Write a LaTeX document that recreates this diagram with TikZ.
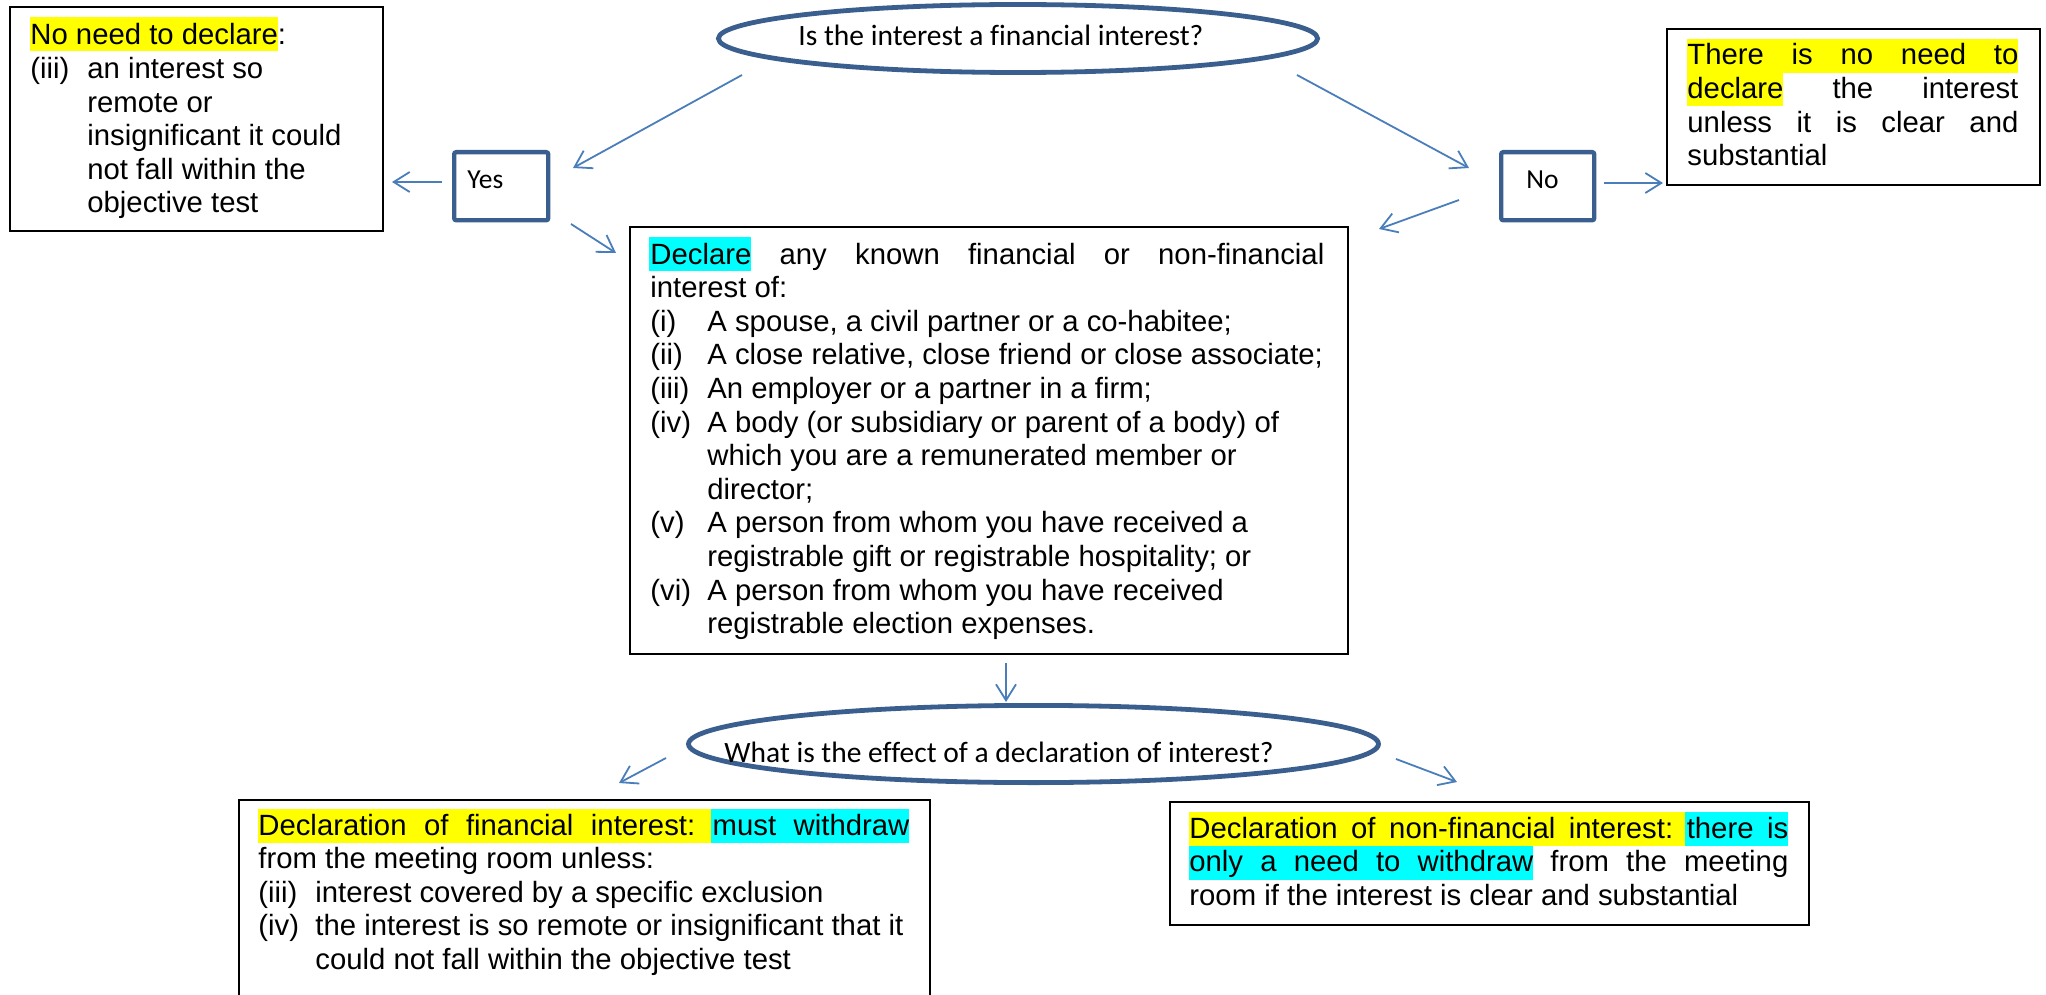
\documentclass[tikz,border=0pt]{standalone}
\usepackage{fontspec}
\setmainfont{Liberation Sans}[Ligatures=NoCommon]
\newfontfamily\calfont{Carlito}[Ligatures=NoCommon]
\usetikzlibrary{arrows.meta,shapes.geometric}
\definecolor{shapeblue}{HTML}{3A5F8E}
\definecolor{arrowblue}{HTML}{4A7EBB}
\definecolor{hly}{HTML}{FFFF00}
\definecolor{hlc}{HTML}{00FFFF}
\newdimen\itemind \itemind=28.5pt
\hbadness=10000
\newcommand\Ln[1]{\hbox{#1}}
\newcommand\Jn[1]{\hbox to\hsize{#1}}
\newcommand\It[2]{\hbox{\hbox to\itemind{#1\hfil}#2}}
\newcommand\Ic[1]{\hbox{\hskip\itemind #1}}
\newcommand\Blk[2]{\vtop{\hsize=#1\relax\baselineskip=16.8pt\lineskiplimit=-20pt\frenchspacing #2}}
\newcommand\ArialSz{\fontsize{14.65pt}{16.8pt}\selectfont}
\tikzset{
  txt/.style={anchor=base west, inner sep=0pt, font=\ArialSz},
  caltxt/.style={anchor=base west, inner sep=0pt, font=\calfont\fontsize{14.75pt}{17pt}\selectfont},
  yntxt/.style={anchor=base west, inner sep=0pt, font=\calfont\fontsize{13.75pt}{16pt}\selectfont},
  infobox/.style={draw=black, line width=0.9pt, rectangle, anchor=north west, inner sep=0pt},
  answerbox/.style={draw=shapeblue, line width=2.2pt, rectangle, rounded corners=1pt, anchor=north west, inner sep=0pt},
  qline/.style={draw=shapeblue, line width=2.4pt},
  arr/.style={draw=arrowblue, line width=0.9pt, -{Straight Barb[length=8pt,width=10pt]}}
}
\begin{document}
\begin{tikzpicture}[x=0.5pt, y=-0.5pt]
\useasboundingbox (0,0) rectangle (2046,995);
\clip (0,0) rectangle (2046,995);

% highlights
\fill[hly] (30,17) rectangle (278,51);
\fill[hlc] (649,237) rectangle (751,271);
\fill[hly] (1687,39) rectangle (2018,73);
\fill[hly] (1687,73) rectangle (1783,106);
\fill[hly] (258,809) rectangle (711,843);
\fill[hlc] (711,809) rectangle (909,843);
\fill[hly] (1189,812) rectangle (1685,846);
\fill[hlc] (1685,812) rectangle (1788,846);
\fill[hlc] (1189,846) rectangle (1533,880);

% question ellipses
\coordinate (q1) at (1018,38.5);
\coordinate (q2) at (1033.5,744);
\draw[qline] (q1) ellipse [x radius=299.6, y radius=34];
\draw[qline] (q2) ellipse [x radius=345, y radius=38.6];

% boxes
\node[answerbox, minimum width=47pt, minimum height=34pt] (yes) at (452,150) {};
\node[answerbox, minimum width=46.5pt, minimum height=34pt] (no) at (1499,150) {};
\node[infobox, minimum width=186.5pt, minimum height=112pt] (nodecl) at (9,6) {};
\node[infobox, minimum width=359pt, minimum height=213.5pt] (decl) at (629,226) {};
\node[infobox, minimum width=186.5pt, minimum height=78pt] (noneed) at (1666,28) {};
\node[infobox, minimum width=345.5pt, minimum height=105.5pt] (fin) at (238,799) {};
\node[infobox, minimum width=319.5pt, minimum height=61.5pt] (nonfin) at (1169,801) {};

% texts
\node[caltxt] (q1text) at (798,46) {Is the interest a financial interest?};
\node[caltxt] (q2text) at (724,762) {What is the effect of a declaration of interest?};
\node[yntxt] (yestext) at (467,188) {Yes};
\node[yntxt] (notext) at (1526,189) {No};

\node[txt] (nodecltext) at (30,45) {\Blk{340pt}{%
  \Ln{No need to declare:}%
  \It{(iii)}{an interest so}%
  \Ic{remote or}%
  \Ic{insignificant it could}%
  \Ic{not fall within the}%
  \Ic{objective test}}};

\node[txt] (decltext) at (650,264) {\Blk{337pt}{%
  \Jn{Declare any known financial or non-financial}%
  \Ln{interest of:}%
  \It{(i)}{A spouse, a civil partner or a co-habitee;}%
  \It{(ii)}{A close relative, close friend or close associate;}%
  \It{(iii)}{An employer or a partner in a firm;}%
  \It{(iv)}{A body (or subsidiary or parent of a body) of}%
  \Ic{which you are a remunerated member or}%
  \Ic{director;}%
  \It{(v)}{A person from whom you have received a}%
  \Ic{registrable gift or registrable hospitality; or}%
  \It{(vi)}{A person from whom you have received}%
  \Ic{registrable election expenses.}}};

\node[txt] (noneedtext) at (1687,65) {\Blk{165.5pt}{%
  \Jn{There is no need to}%
  \Jn{declare the interest}%
  \Jn{unless it is clear and}%
  \Ln{substantial}}};

\node[txt] (fintext) at (258,835) {\Blk{325.5pt}{%
  \Jn{Declaration of financial interest: must withdraw}%
  \Ln{from the meeting room unless:}%
  \It{(iii)}{interest covered by a specific exclusion}%
  \It{(iv)}{the interest is so remote or insignificant that it}%
  \Ic{could not fall within the objective test}}};

\node[txt] (nonfintext) at (1189,838) {\Blk{299.5pt}{%
  \Jn{Declaration of non-financial interest: there is}%
  \Jn{only a need to withdraw from the meeting}%
  \Ln{room if the interest is clear and substantial}}};

% connector end points
\coordinate (a1s) at (742,75);   \coordinate (a1e) at (573,168);
\coordinate (a2s) at (1297,75);  \coordinate (a2e) at (1469,168);
\coordinate (a3s) at (442,182);  \coordinate (a3e) at (392,182);
\coordinate (a4s) at (571,224);  \coordinate (a4e) at (616,253);
\coordinate (a5s) at (1459,200); \coordinate (a5e) at (1379,229);
\coordinate (a6s) at (1604,183); \coordinate (a6e) at (1663,183);
\coordinate (a7s) at (1006,663); \coordinate (a7e) at (1006,702);
\coordinate (a8s) at (666,758);  \coordinate (a8e) at (619,783);
\coordinate (a9s) at (1396,759); \coordinate (a9e) at (1457,782);

\draw[arr] (a1s) -- (a1e);
\draw[arr] (a2s) -- (a2e);
\draw[arr] (a3s) -- (a3e);
\draw[arr] (a4s) -- (a4e);
\draw[arr] (a5s) -- (a5e);
\draw[arr] (a6s) -- (a6e);
\draw[arr] (a7s) -- (a7e);
\draw[arr] (a8s) -- (a8e);
\draw[arr] (a9s) -- (a9e);
\end{tikzpicture}
\end{document}
